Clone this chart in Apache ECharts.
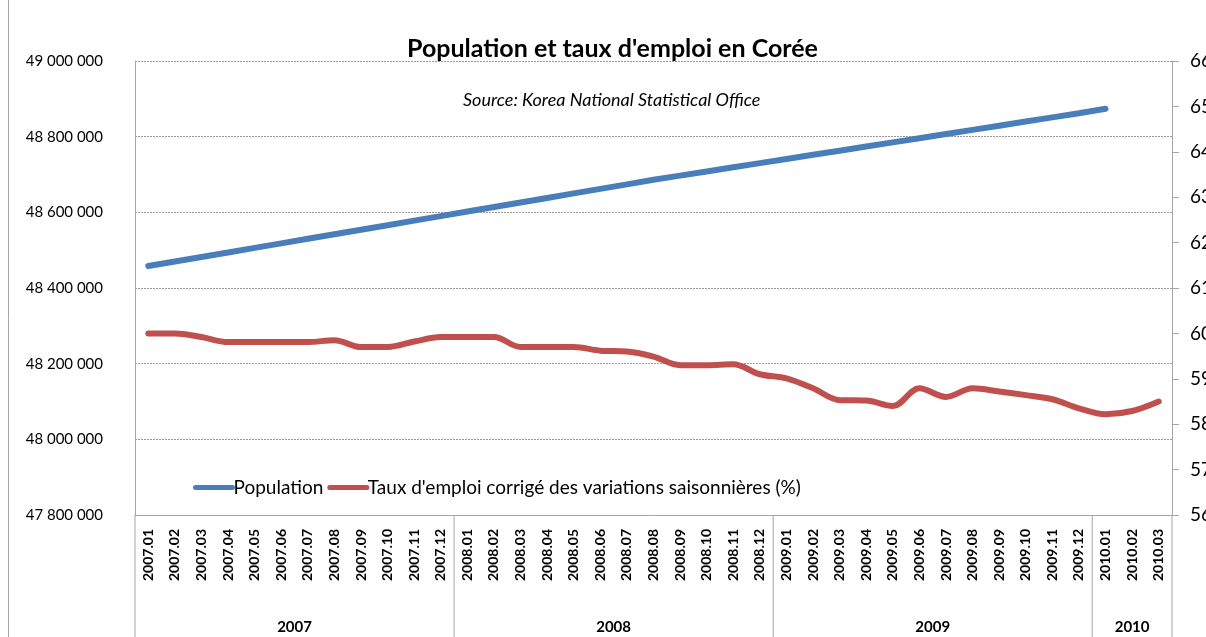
<!DOCTYPE html>
<html>
<head>
<meta charset="utf-8">
<script src="https://cdn.jsdelivr.net/npm/echarts@6/dist/echarts.min.js"></script>
<style>
html,body{margin:0;padding:0;background:#fff;}
#chart{width:1206px;height:637px;}
</style>
</head>
<body>
<div id="chart"></div>
<script>
//données
var months = ['2007.01','2007.02','2007.03','2007.04','2007.05','2007.06','2007.07','2007.08','2007.09','2007.10','2007.11','2007.12',
	'2008.01','2008.02','2008.03','2008.04','2008.05','2008.06','2008.07','2008.08','2008.09','2008.10','2008.11','2008.12',
	'2009.01','2009.02','2009.03','2009.04','2009.05','2009.06','2009.07','2009.08','2009.09','2009.10','2009.11','2009.12',
	'2010.01','2010.02','2010.03'];
var population = [48458000,48470000,48482000,48494000,48506000,48518000,48530000,48542000,48554000,48566000,48578000,48590000,
	48602000,48614000,48626000,48638000,48650000,48662000,48674000,48686000,48697000,48708000,48719000,48730000,
	48741000,48752000,48763000,48774000,48785000,48796000,48807000,48818000,48829000,48840000,48851000,48862000,
	48874000,null,null];
var emploi = [60.0,60.0,59.92,59.81,59.81,59.81,59.81,59.85,59.7,59.7,59.82,59.92,
	59.92,59.92,59.7,59.7,59.7,59.62,59.6,59.49,59.3,59.3,59.32,59.1,
	59.01,58.79,58.53,58.52,58.4,58.79,58.6,58.79,58.72,58.64,58.55,58.35,
	58.22,58.29,58.5];
var years = ['2007','2008','2009','2010'];
var yearFirst = [0,12,24,36];
var yearLast = [11,23,35,38];

var font = 'Lato, "Liberation Sans", sans-serif';
var gris = '#a6a6a6';

var myChart = echarts.init(document.getElementById('chart'));
var option = {
	backgroundColor: '#fff',
	textStyle: {fontFamily: font},
	color: ['#4a7ebb', '#c0504d'],
	title: [{
		text: "Population et taux d'emploi en Corée",
		left: 402,
		top: 31,
		textStyle: {fontFamily: font, fontSize: 25, fontWeight: 'bold', color: '#000'}
	}, {
		text: 'Source: Korea National Statistical Office',
		left: 458,
		top: 86,
		textStyle: {fontFamily: font, fontSize: 18, fontStyle: 'italic', fontWeight: 'normal', color: '#000'}
	}],
	legend: {
		left: 188,
		top: 473,
		itemWidth: 37,
		itemHeight: 12,
		itemGap: 4,
		itemStyle: {opacity: 0},
		lineStyle: {width: 5},
		textStyle: {fontFamily: font, fontSize: 19, color: '#000', padding: [0, 0, 0, -4]},
		data: ['Population', "Taux d'emploi corrigé des variations saisonnières (%)"]
	},
	grid: {left: 135, right: 34, top: 61, bottom: 122, containLabel: false, outerBoundsMode: 'none'},
	xAxis: {
		type: 'category',
		boundaryGap: true,
		data: months,
		axisLine: {lineStyle: {color: gris}},
		axisTick: {show: false},
		axisLabel: {
			rotate: 90,
			interval: 0,
			margin: 14,
			fontFamily: font,
			fontSize: 14,
			fontWeight: 'bold',
			color: '#000'
		}
	},
	yAxis: [{
		type: 'value',
		min: 47800000,
		max: 49000000,
		interval: 200000,
		axisLine: {show: true, lineStyle: {color: gris}},
		axisTick: {show: false},
		splitLine: {lineStyle: {color: '#9a9a9a', type: [2, 1], width: 1}},
		axisLabel: {
			margin: 32,
			fontFamily: font,
			fontSize: 15,
			color: '#000',
			formatter: function(v) {
				return String(v).replace(/\B(?=(\d{3})+(?!\d))/g, ' ');
			}
		}
	}, {
		type: 'value',
		min: 56,
		max: 66,
		interval: 1,
		position: 'right',
		axisLine: {show: true, lineStyle: {color: gris}},
		axisTick: {show: true, length: 7, lineStyle: {color: gris}},
		splitLine: {show: false},
		axisLabel: {margin: 18, fontFamily: font, fontSize: 19, color: '#000'}
	}],
	series: [{
		name: 'Population',
		type: 'line',
		yAxisIndex: 0,
		data: population,
		symbol: 'none',
		lineStyle: {width: 6, cap: 'round'}
	}, {
		name: "Taux d'emploi corrigé des variations saisonnières (%)",
		type: 'line',
		yAxisIndex: 1,
		data: emploi,
		symbol: 'none',
		smooth: 0.35,
		lineStyle: {width: 6, cap: 'round'}
	}]
};
myChart.setOption(option);

//séparateurs des années et libellés
var c0 = myChart.convertToPixel({xAxisIndex: 0}, months[0]);
var c1 = myChart.convertToPixel({xAxisIndex: 0}, months[1]);
var bw = c1 - c0;
var yAxe = myChart.convertToPixel({yAxisIndex: 0}, 47800000);
var els = [];
els.push({type: 'line', shape: {x1: 8.5, y1: 0, x2: 8.5, y2: 637}, style: {stroke: gris, lineWidth: 1}});
for (var i = 0; i < years.length; i++) {
	var a = myChart.convertToPixel({xAxisIndex: 0}, months[yearFirst[i]]) - bw / 2;
	var b = myChart.convertToPixel({xAxisIndex: 0}, months[yearLast[i]]) + bw / 2;
	els.push({type: 'line', shape: {x1: a, y1: yAxe, x2: a, y2: 637}, style: {stroke: gris, lineWidth: 1}});
	if (i == years.length - 1) {
		els.push({type: 'line', shape: {x1: b, y1: yAxe, x2: b, y2: 637}, style: {stroke: gris, lineWidth: 1}});
	}
	els.push({type: 'text', x: (a + b) / 2, y: 627, style: {
		text: years[i], fontFamily: font, fontSize: 15, fontWeight: 'bold', fill: '#000',
		align: 'center', verticalAlign: 'middle'}});
}
myChart.setOption({graphic: {elements: els}});
</script>
</body>
</html>
